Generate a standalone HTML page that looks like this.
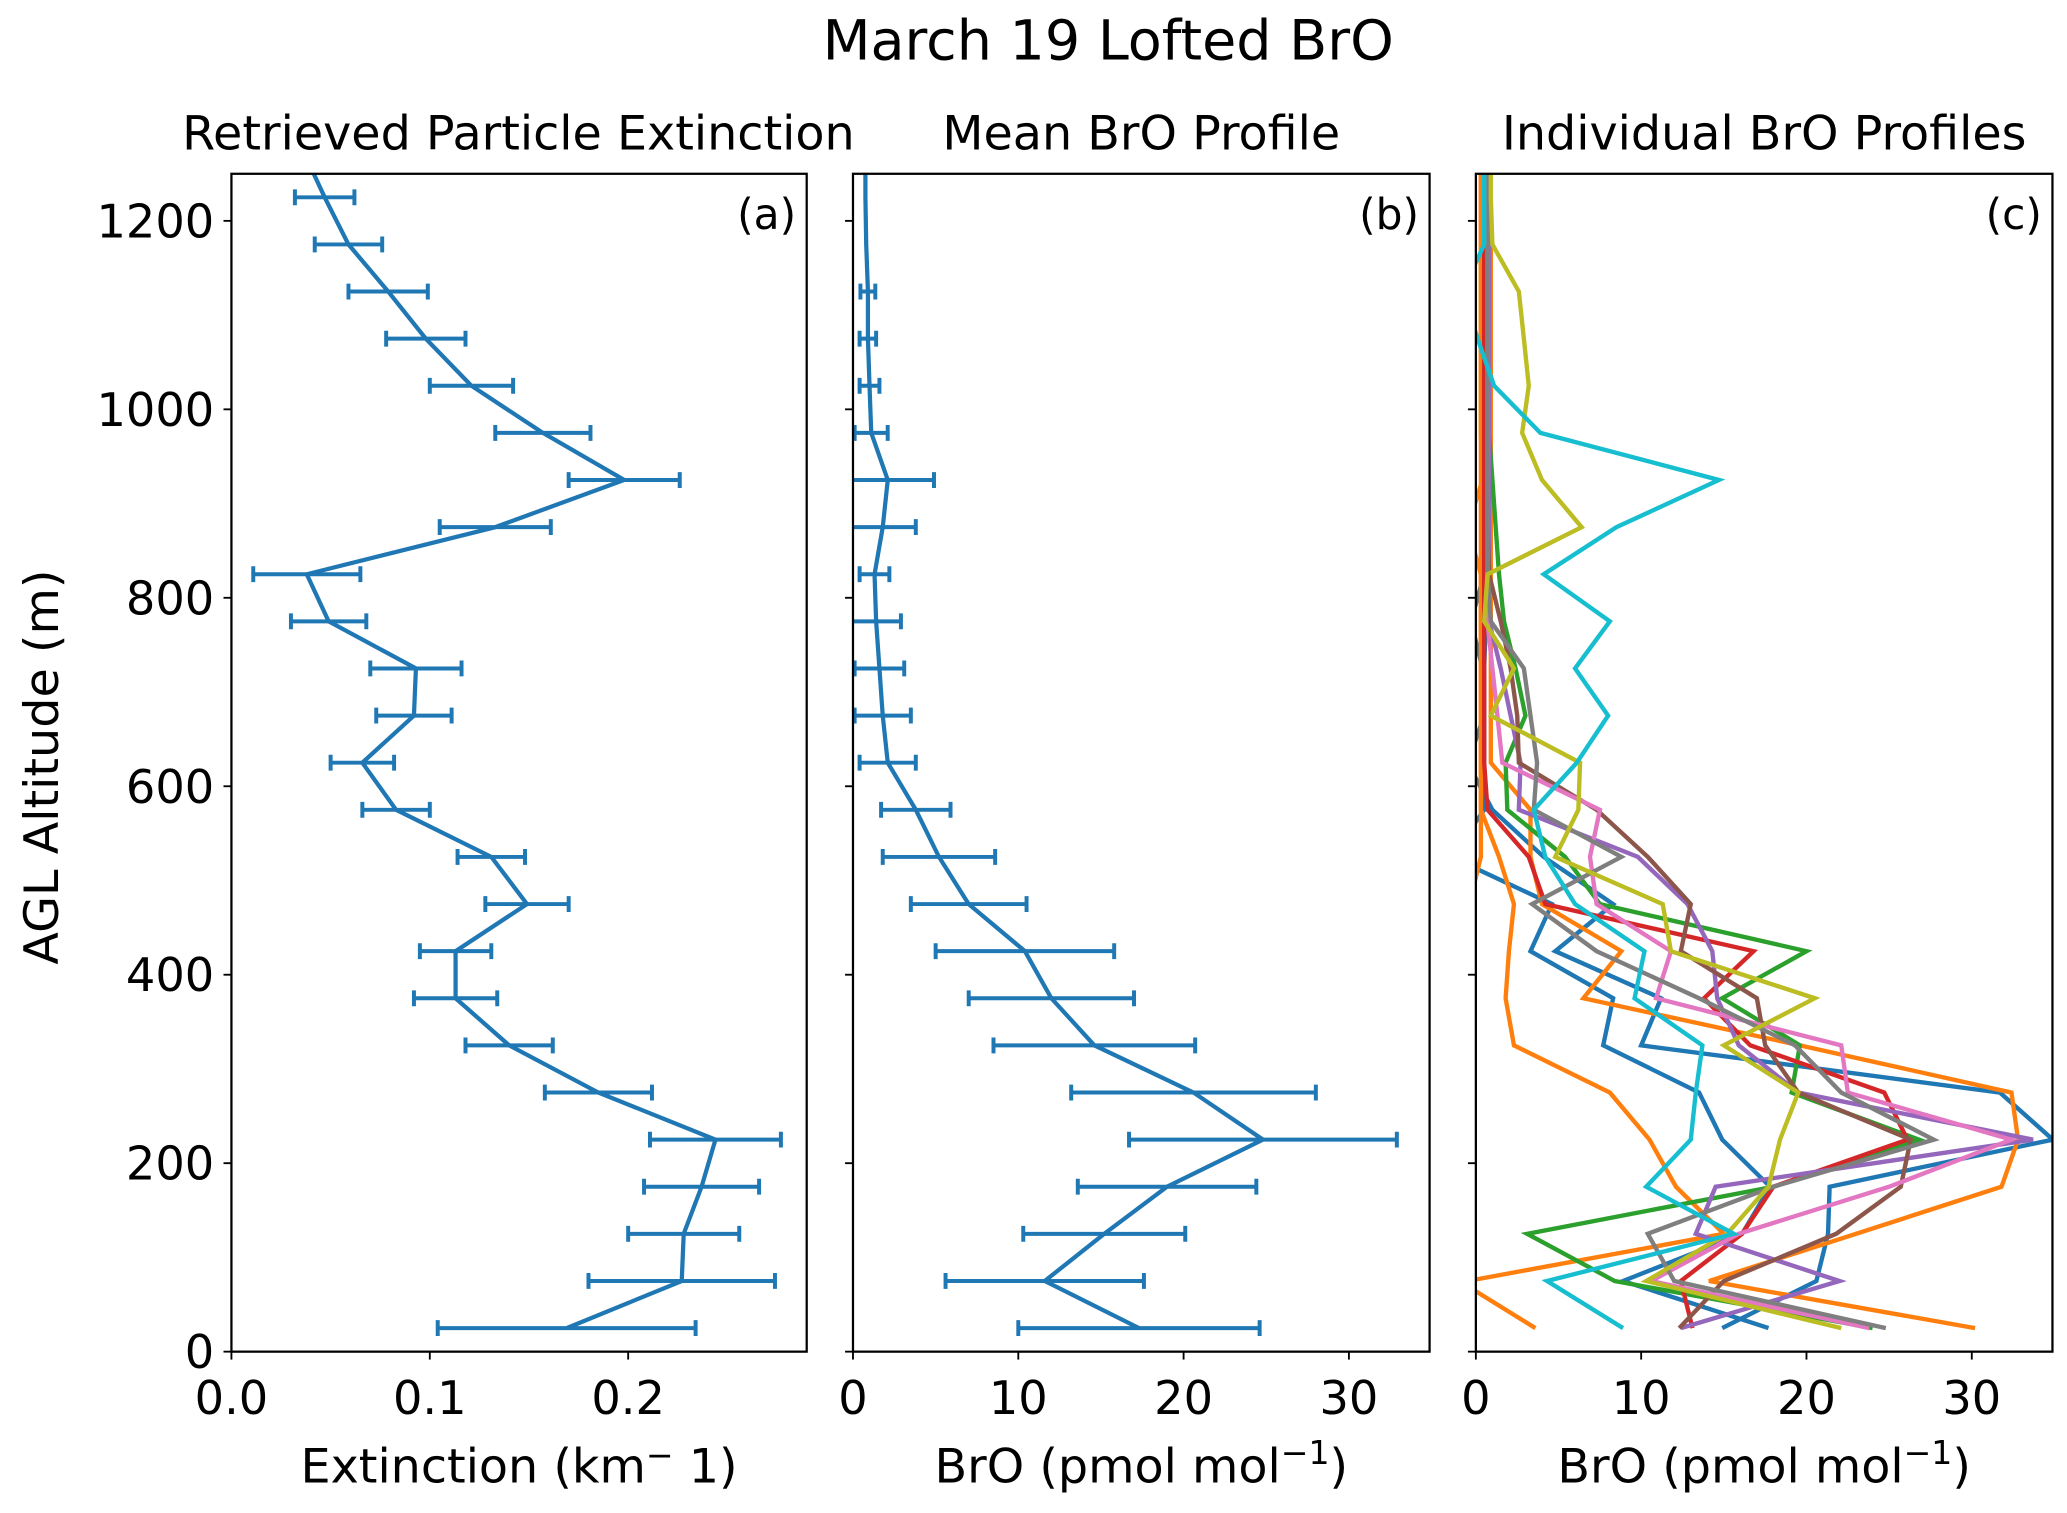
<!DOCTYPE html>
<html><head><meta charset="utf-8"><style>
html,body{margin:0;padding:0;background:#fff;}
svg{display:block;font-family:"DejaVu Sans","Liberation Sans",sans-serif;}
</style></head><body>
<svg id="fig" width="2067" height="1513" viewBox="0 0 1563 1144" preserveAspectRatio="none" xmlns="http://www.w3.org/2000/svg">
<defs>
<clipPath id="clipA"><rect x="175" y="131.4" width="435" height="890.6"/></clipPath>
<clipPath id="clipB"><rect x="645" y="131.4" width="436" height="890.6"/></clipPath>
<clipPath id="clipC"><rect x="1116" y="131.4" width="436" height="890.6"/></clipPath>
</defs>
<text x="838" y="45" font-size="42" text-anchor="middle">March 19 Lofted BrO</text>
<text transform="translate(44,580) rotate(-90)" font-size="36" text-anchor="middle">AGL Altitude (m)</text>
<g id="root"></g>
</svg>
<script>
const alts = [25,75,125,175,225,275,325,375,425,475,525,575,625,675,725,775,825,875,925,975,1025,1075,1125,1175,1225,1275];
const extVals = [0.169,0.227,0.228,0.237,0.244,0.185,0.140,0.113,0.113,0.149,0.131,0.083,0.066,0.092,0.093,0.049,0.038,0.133,0.198,0.157,0.121,0.098,0.079,0.059,0.047,0.036];
const extErr  = [0.065,0.047,0.028,0.029,0.033,0.027,0.022,0.021,0.018,0.021,0.017,0.017,0.016,0.019,0.023,0.019,0.027,0.028,0.028,0.024,0.021,0.020,0.020,0.017,0.015,0];
const broMean = [17.3,11.6,15.2,19.0,24.8,20.6,14.6,12.0,10.4,7.0,5.2,3.8,2.1,1.8,1.6,1.4,1.3,1.8,2.1,1.1,1.0,0.9,0.9,0.8,0.75,0.75];
const broErr  = [7.3,6.0,4.9,5.4,8.1,7.4,6.1,5.0,5.4,3.5,3.4,2.1,1.7,1.7,1.5,1.5,0.9,2.0,2.8,1.0,0.6,0.5,0.45,0,0,0];
const xTicksA = [0.0,0.1,0.2];
const xTickLabelsA = ["0.0","0.1","0.2"];
const xTicksB = [0,10,20,30];
const yTicks = [0,200,400,600,800,1000,1200];
const seriesColors = ["#1f77b4","#1f77b4","#ff7f0e","#ff7f0e","#ff7f0e","#2ca02c","#d62728","#9467bd","#8c564b","#e377c2","#7f7f7f","#bcbd22","#17becf"];
const sBlueA  = [17.7,8.9,16.1,17.8,14.9,13.5,7.7,8.3,3.3,4.6,-1.5,0.5,0.5,0.5,0.4,-0.3,0.5,0.5,0.5,0.5,0.5,0.5,0.5,0.5,0.5,0.5];
const sBlueB  = [14.9,20.6,21.3,21.4,34.9,31.7,10.0,11.2,4.8,8.3,4.1,1.0,-0.5,0.5,0.5,0.6,0.6,0.6,0.6,0.6,0.6,0.6,0.6,0.6,0.6,0.6];
const sOrangeA= [3.6,-1.0,-2.0,-1.5,-1.0,-0.8,-0.6,-0.5,-0.5,-0.4,0.3,0.3,0.3,0.3,0.3,0.3,0.3,-0.5,0.4,0.3,0.3,0.3,0.3,0.3,0.3,0.3];
const sOrangeB= [-4.0,-0.5,15.0,12.1,10.5,8.1,2.3,1.8,2.0,2.3,1.4,0.3,0.3,0.3,0.3,0.3,0.3,0.3,0.3,0.3,0.3,0.3,0.3,0.3,0.3,0.3];
const sOrangeC= [30.2,14.1,23.0,31.8,32.8,32.4,19.6,6.5,8.8,4.0,3.3,3.3,0.9,0.9,0.9,0.9,0.9,0.9,0.9,0.9,0.9,0.9,0.9,0.9,0.9,0.9];
const sGreen  = [24.0,8.4,3.1,18.0,26.8,19.1,19.6,14.9,20.0,7.5,5.4,1.9,1.8,3.0,2.4,1.7,1.4,1.2,1.0,0.8,0.8,0.8,0.8,0.8,0.8,0.8];
const sRed    = [13.1,12.4,16.1,18.0,26.1,24.7,16.6,13.8,16.8,4.2,3.2,0.7,0.5,0.5,0.5,0.5,0.5,0.5,0.5,0.5,0.5,0.5,0.5,0.5,0.5,0.5];
const sPurple = [12.4,22.0,13.3,14.5,33.7,19.5,15.9,14.6,14.3,12.8,9.8,2.6,2.7,2.1,1.5,0.8,0.8,0.8,0.8,0.8,0.8,0.8,0.8,0.8,0.8,0.8];
const sBrown  = [12.3,15.0,21.8,25.7,26.3,19.5,17.5,17.0,12.4,13.0,10.4,7.3,2.6,2.5,2.1,1.5,0.8,0.7,0.7,0.7,0.7,0.7,0.7,0.7,0.7,0.7];
const sPink   = [23.8,10.6,15.9,25.0,32.4,22.5,22.1,10.9,11.8,7.3,6.9,7.5,1.6,1.3,1.0,0.7,0.7,0.7,0.7,0.7,0.7,0.7,0.7,0.7,0.7,0.7];
const sGray   = [24.8,12.0,10.4,18.0,27.7,22.1,19.3,13.5,7.3,3.4,8.8,3.5,3.7,3.3,2.9,0.9,0.7,0.7,0.7,0.7,0.7,0.7,0.7,0.7,0.7,0.7];
const sOlive  = [22.1,10.3,15.2,17.7,18.4,19.5,15.0,20.5,11.8,11.3,4.8,6.2,6.3,0.9,2.3,0.5,0.7,6.4,4.0,2.8,3.2,2.9,2.6,1.0,0.9,0.9];
const sCyan   = [8.9,4.3,15.6,10.3,13.0,13.3,13.7,9.6,10.2,6.0,4.2,3.5,6.1,8.0,6.0,8.1,4.1,8.5,14.7,3.9,1.1,0.1,-0.8,0.5,0.5,0.5];
const seriesC = [sBlueA,sBlueB,sOrangeA,sOrangeB,sOrangeC,sGreen,sRed,sPurple,sBrown,sPink,sGray,sOlive,sCyan];

const NS="http://www.w3.org/2000/svg";
const root=document.getElementById('root');
function mk(tag,attrs,parent){const e=document.createElementNS(NS,tag);for(const k in attrs)e.setAttribute(k,attrs[k]);(parent||root).appendChild(e);return e;}
const Y0=1022, KY=0.7125;
function yScale(a){return Y0-a*KY;}
const panels=[
 {x0:175,w:435,xmax:0.29,clip:'clipA',title:'Retrieved Particle Extinction',tcx:392,lab:'(a)',ticks:xTicksA,tl:xTickLabelsA,name:'extinction'},
 {x0:645,w:436,xmax:34.88,clip:'clipB',title:'Mean BrO Profile',tcx:863,lab:'(b)',ticks:xTicksB,tl:["0","10","20","30"],name:'mean-bro'},
 {x0:1116,w:436,xmax:34.88,clip:'clipC',title:'Individual BrO Profiles',tcx:1334,lab:'(c)',ticks:xTicksB,tl:["0","10","20","30"],name:'individual-bro'}
];
panels.forEach((p,pi)=>{
  const g=mk('g',{});
  
  
  p.xs=v=>p.x0+v/p.xmax*p.w;
  const t=mk('text',{x:p.tcx,y:113,'font-size':36,'text-anchor':'middle'},g);
  
  
  t.textContent=p.title;
  yTicks.forEach(v=>{
    const yy=yScale(v);
    const tk=mk('line',{x1:p.x0-6,x2:p.x0,y1:yy,y2:yy,stroke:'#000','stroke-width':1.4},g);
    
    
    if(pi===0){const tx=mk('text',{x:p.x0-13,y:yy+12.5,'font-size':35,'text-anchor':'end'},g);
      
      
      tx.textContent=v;}
  });
  p.ticks.forEach((v,i)=>{
    const xx=p.xs(v);
    const tk=mk('line',{x1:xx,x2:xx,y1:Y0,y2:Y0+6,stroke:'#000','stroke-width':1.4},g);
    
    
    const tx=mk('text',{x:xx,y:Y0+47,'font-size':35,'text-anchor':'middle'},g);
    
    
    tx.textContent=p.tl[i];
  });
  const xl=mk('text',{x:p.x0+p.w/2,y:1121,'font-size':36,'text-anchor':'middle'},g);
  
  
  if(pi===0){xl.innerHTML='Extinction (km<tspan font-size="25" dy="-12">−</tspan><tspan dy="12"> 1)</tspan>';}
  else{xl.innerHTML='BrO (pmol mol<tspan font-size="25" dy="-14">−1</tspan><tspan dy="14">)</tspan>';}
  const lb=mk('text',{x:p.x0+p.w-8,y:173,'font-size':32,'text-anchor':'end'},g);
  
  
  lb.textContent=p.lab;
  const dg=mk('g',{'clip-path':'url(#'+p.clip+')'},g);
  p.dg=dg;
  const fr=mk('rect',{x:p.x0,y:131.4,width:p.w,height:Y0-131.4,fill:'none',stroke:'#000','stroke-width':1.7},g);
  
  
});
function profile(p,vals,errs,color,name,sw){
  const pts=vals.map((v,i)=>p.xs(v).toFixed(1)+','+yScale(alts[i]).toFixed(1)).join(' ');
  const pl=mk('polyline',{points:pts,fill:'none',stroke:color,'stroke-width':sw,'stroke-linejoin':'miter'},p.dg);
  
  
  if(errs){vals.forEach((v,i)=>{
    if(!errs[i])return;
    const yy=yScale(alts[i]),xa=p.xs(v-errs[i]),xb=p.xs(v+errs[i]);
    const eb=mk('path',{d:`M${xa},${yy}H${xb}M${xa},${yy-6}V${yy+6}M${xb},${yy-6}V${yy+6}`,stroke:color,'stroke-width':3,fill:'none'},p.dg);
    
    
  });}
}
profile(panels[0],extVals,extErr,'#1f77b4','extinction-profile',3.2);
profile(panels[1],broMean,broErr,'#1f77b4','mean-bro-profile',3.2);
seriesC.forEach((s,i)=>profile(panels[2],s,null,seriesColors[i],'bro-profile-'+(i+1),3.3));
</script>
</body></html>
